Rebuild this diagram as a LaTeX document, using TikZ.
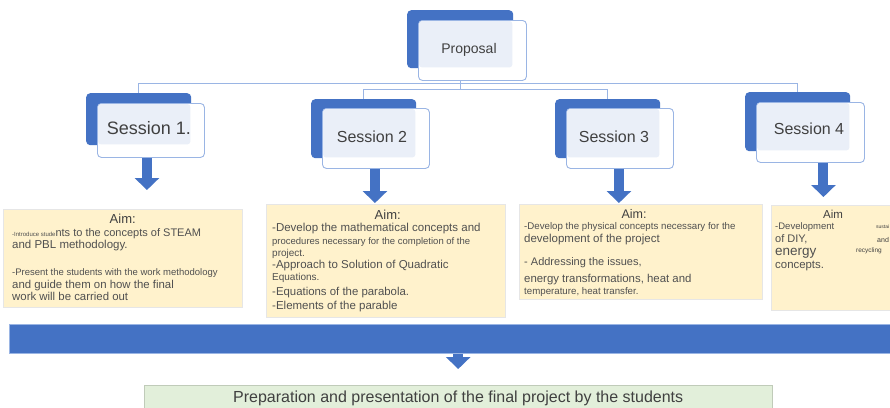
\documentclass[tikz,border=0pt]{standalone}
\usepackage{fontspec}
\setmainfont{Liberation Sans}
\usetikzlibrary{arrows.meta}

\definecolor{sblue}{HTML}{4472C4}
\definecolor{lineblue}{HTML}{9AB5E4}
\definecolor{lightfill}{HTML}{EAEFF8}
\definecolor{aimfill}{HTML}{FFF2CC}
\definecolor{aimline}{HTML}{E6E6E6}
\definecolor{prepfill}{HTML}{E2EFDA}
\definecolor{txt}{HTML}{404040}
\definecolor{aimtxt}{HTML}{505050}

% font size with a fixed line distance
\newcommand{\fsz}[1]{\fontsize{#1}{12}\selectfont}

\tikzset{
  back/.style={fill=sblue, rounded corners=4pt, inner sep=0pt, anchor=north west},
  front/.style={draw=lineblue, fill=white, line width=0.9pt, rounded corners=4pt, inner sep=0pt, anchor=north west},
  inner/.style={fill=lightfill, rounded corners=3pt},
  title/.style={text=txt, inner sep=0pt},
  link/.style={draw=lineblue, line width=1pt},
  blockarrow/.style={draw=sblue, line width=10pt, -{Triangle[width=24pt,length=12pt]}},
  aimbox/.style={fill=aimfill, draw=aimline, line width=0.6pt, inner sep=0pt, anchor=north west},
  aimtext/.style={text=aimtxt, inner sep=0pt, align=left, anchor=north west},
}

\begin{document}
\begin{tikzpicture}[x=1pt,y=-1pt]
  \useasboundingbox (0,0) rectangle (890,407);
  \clip (0,0) rectangle (890,407);
  \fill[white] (0,0) rectangle (890,407);

  % proposal
  \node[back, minimum width=106pt, minimum height=58pt] (pb) at (407,10) {};
  \node[front, minimum width=108pt, minimum height=60pt] (p) at (418,20) {};
  \fill[inner] ([shift={(1pt,-1pt)}]p.north west) rectangle ([shift={(-1pt,1pt)}]pb.south east);
  \node[title, font=\fsz{14}] (ptext) at (469,50) {Proposal};

  % sessions
  \node[back, minimum width=105pt, minimum height=52pt] (s1b) at (86,93) {};
  \node[front, minimum width=107pt, minimum height=54pt] (s1) at (97,103) {};
  \fill[inner] ([shift={(1pt,-1pt)}]s1.north west) rectangle ([shift={(-1pt,1pt)}]s1b.south east);
  \node[title, font=\fsz{18}] (s1text) at (149,128) {Session 1.};

  \node[back, minimum width=105pt, minimum height=59pt] (s2b) at (311,99) {};
  \node[front, minimum width=107pt, minimum height=60pt] (s2) at (322,108) {};
  \fill[inner] ([shift={(1pt,-1pt)}]s2.north west) rectangle ([shift={(-1pt,1pt)}]s2b.south east);
  \node[title, font=\fsz{16}] (s2text) at (372,137) {Session 2};

  \node[back, minimum width=105pt, minimum height=59pt] (s3b) at (555,99) {};
  \node[front, minimum width=107pt, minimum height=60pt] (s3) at (566,108) {};
  \fill[inner] ([shift={(1pt,-1pt)}]s3.north west) rectangle ([shift={(-1pt,1pt)}]s3b.south east);
  \node[title, font=\fsz{16}] (s3text) at (614,137) {Session 3};

  \node[back, minimum width=105pt, minimum height=59pt] (s4b) at (745,92) {};
  \node[front, minimum width=108pt, minimum height=60pt] (s4) at (756,102) {};
  \fill[inner] ([shift={(1pt,-1pt)}]s4.north west) rectangle ([shift={(-1pt,1pt)}]s4b.south east);
  \node[title, font=\fsz{16}] (s4text) at (809,129) {Session 4};

  % tree lines
  \draw[link] (pb.south |- p.south) -- ++(0,9) -| (s2b.north);
  \draw[link] (pb.south |- p.south) -- ++(0,9) -| (s3b.north);
  \draw[link] (pb.south |- p.south) -- ++(0,3) -| (s1b.north);
  \draw[link] (pb.south |- p.south) -- ++(0,3) -| (s4b.north);

  % aims
  \node[aimbox, minimum width=239pt, minimum height=98pt] (a1) at (3,209) {};
  \node[title, font=\fsz{13}] (a1h) at (122.7,219) {Aim:};
  \node[aimtext] (a1t) at (12,228) {{\fsz{6}-Introduce stude}{\fsz{11}nts to the concepts of STEAM}\\
    \fsz{11.5}and PBL methodology.\\[15pt]
    \fsz{9.5}-Present the students with the work methodology\\[1pt]
    \fsz{11.4}and guide them on how the final\\
    \fsz{11.4}work will be carried out};

  \node[aimbox, minimum width=239pt, minimum height=113pt] (a2) at (266,204) {};
  \node[title, font=\fsz{13}] (a2h) at (387.7,215) {Aim:};
  \node[aimtext] (a2t) at (272,223) {\fsz{11.5}-Develop the mathematical concepts and\\[1pt]
    \fsz{9.5}procedures necessary for the completion of the\\
    \fsz{10}project.\\
    \fsz{11.5}-Approach to Solution of Quadratic\\
    \fsz{10}Equations.\\[3pt]
    \fsz{11.4}-Equations of the parabola.\\[2pt]
    \fsz{11.5}-Elements of the parable};

  \node[aimbox, minimum width=243pt, minimum height=95pt] (a3) at (519,204) {};
  \node[title, font=\fsz{12.5}] (a3h) at (634,214) {Aim:};
  \node[aimtext] (a3t) at (524,222.5) {\fsz{9.7}-Develop the physical concepts necessary for the\\[1pt]
    \fsz{11.5}development of the project\\[11pt]
    \fsz{11}- Addressing the issues,\\[5pt]
    \fsz{11.4}energy transformations, heat and\\
    \fsz{9.7}temperature, heat transfer.};

  \node[aimbox, minimum width=130pt, minimum height=105pt] (a4) at (771,205) {};
  \node[title, font=\fsz{11.5}] (a4h) at (833,214) {Aim};
  \node[aimtext] (a4t) at (775,222) {\fsz{9.5}-Development\\[1pt]
    \fsz{11}of DIY,\\[1pt]
    \fsz{13.5}energy\\[1pt]
    \fsz{11.4}concepts.};
  \node[title, font=\fsz{5}, anchor=west] (a4s) at (876,227) {sustai};
  \node[title, font=\fsz{7}, anchor=west] (a4a) at (877,240) {and};
  \node[title, font=\fsz{6.5}, anchor=west] (a4r) at (856,251) {recycling};

  % arrows down to the aims
  \draw[blockarrow, shorten >=19pt] ([xshift=-4pt]s1.south) -- ([xshift=-4pt]s1.south |- a1.north);
  \draw[blockarrow, shorten >=1pt] ([xshift=-1pt]s2.south) -- ([xshift=-1pt]s2.south |- a2.north);
  \draw[blockarrow, shorten >=1pt] ([xshift=-1pt]s3.south) -- ([xshift=-1pt]s3.south |- a3.north);
  \draw[blockarrow, shorten >=8pt] ([xshift=13pt]s4.south) -- ([xshift=13pt]s4.south |- a4.north);

  % bar and final step
  \node[fill=sblue, draw=lineblue, line width=0.8pt, inner sep=0pt, anchor=north west,
    minimum width=900pt, minimum height=29pt] (bar) at (9,324) {};
  \node[fill=prepfill, draw=prepfill!85!black, line width=0.4pt, inner sep=0pt, anchor=north west,
    minimum width=628pt, minimum height=26pt, text=txt, font=\fsz{16}] (prep) at (144,385)
    {Preparation and presentation of the final project by the students};
  \draw[blockarrow, shorten >=16pt] (bar.south -| prep.north) -- (prep.north);
\end{tikzpicture}
\end{document}
